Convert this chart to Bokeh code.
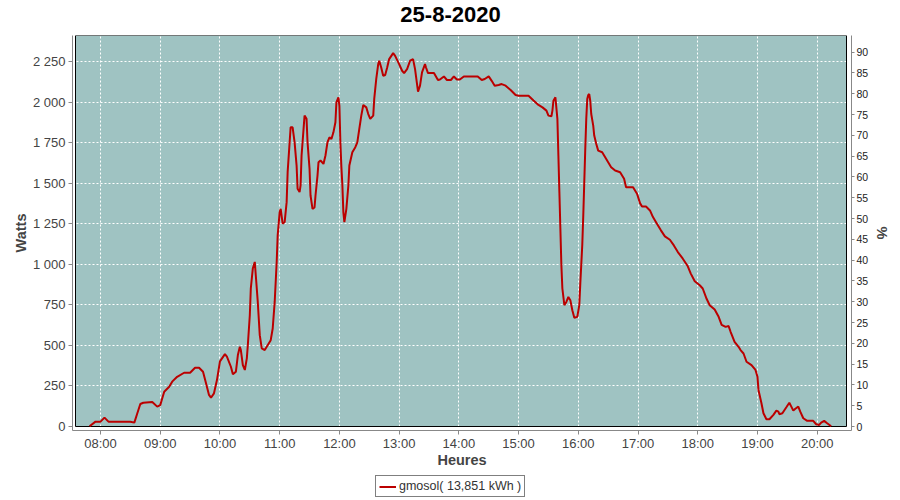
from bokeh.plotting import figure
from bokeh.layouts import column
from bokeh.models import Range1d, LinearAxis, FixedTicker, Legend, LegendItem, ColumnDataSource, Label
from bokeh.embed import file_html
from bokeh.resources import INLINE

title_text = "25-8-2020"
series_name = "gmosol( 13,851 kWh )"
x_label = "Heures"
y_label = "Watts"
y2_label = "%"

times = [
    "07:49", "07:55", "08:00", "08:04", "08:08", "08:30", "08:34", "08:37", "08:40", "08:43",
    "08:52", "08:57", "09:00", "09:04", "09:09", "09:12", "09:17", "09:24", "09:30", "09:35",
    "09:39", "09:43", "09:46", "09:49", "09:51", "09:54", "09:57", "10:00", "10:05", "10:07",
    "10:11", "10:13", "10:16", "10:18", "10:20", "10:21", "10:23", "10:25", "10:27", "10:28",
    "10:30", "10:31", "10:33", "10:35", "10:36", "10:38", "10:40", "10:42", "10:45", "10:47",
    "10:51", "10:53", "10:55", "10:57", "10:58", "11:00", "11:01", "11:03", "11:05", "11:07",
    "11:08", "11:10", "11:11", "11:13", "11:15", "11:17", "11:18", "11:20", "11:21", "11:22",
    "11:24", "11:25", "11:27", "11:28", "11:30", "11:31", "11:33", "11:35", "11:36", "11:38",
    "11:39", "11:41", "11:44", "11:46", "11:48", "11:50", "11:52", "11:54", "11:56", "11:57",
    "11:59", "12:00", "12:01", "12:02", "12:03", "12:04", "12:05", "12:07", "12:09", "12:10",
    "12:13", "12:16", "12:18", "12:20", "12:22", "12:24", "12:27", "12:29", "12:31", "12:34",
    "12:35", "12:37", "12:39", "12:40", "12:42", "12:44", "12:46", "12:48", "12:50", "12:54",
    "12:56", "13:00", "13:03", "13:05", "13:08", "13:11", "13:14", "13:16", "13:18", "13:19",
    "13:21", "13:23", "13:26", "13:27", "13:29", "13:35", "13:39", "13:41", "13:45", "13:48",
    "13:52", "13:55", "13:58", "14:01", "14:05", "14:19", "14:23", "14:26", "14:30", "14:33",
    "14:36", "14:40", "14:43", "14:47", "14:52", "14:57", "15:00", "15:10", "15:15", "15:20",
    "15:24", "15:28", "15:30", "15:33", "15:34", "15:35", "15:37", "15:39", "15:40", "15:41",
    "15:42", "15:43", "15:44", "15:46", "15:48", "15:50", "15:52", "15:54", "15:56", "15:59",
    "16:01", "16:02", "16:03", "16:04", "16:05", "16:06", "16:07", "16:08", "16:09", "16:10",
    "16:11", "16:12", "16:13", "16:15", "16:16", "16:18", "16:20", "16:24", "16:27", "16:30",
    "16:33", "16:37", "16:42", "16:46", "16:48", "16:55", "16:59", "17:02", "17:04", "17:08",
    "17:12", "17:15", "17:19", "17:23", "17:27", "17:32", "17:36", "17:40", "17:45", "17:50",
    "17:53", "17:57", "18:02", "18:05", "18:09", "18:12", "18:17", "18:21", "18:24", "18:28",
    "18:31", "18:33", "18:37", "18:41", "18:43", "18:46", "18:49", "18:54", "18:58", "19:00",
    "19:01", "19:04", "19:06", "19:09", "19:12", "19:16", "19:19", "19:21", "19:22", "19:25",
    "19:29", "19:32", "19:34", "19:36", "19:38", "19:41", "19:43", "19:46", "19:50", "19:56",
    "19:59", "20:02", "20:04", "20:07", "20:10", "20:14",
]
watts = [
    0, 28, 28, 53, 28, 28, 22, 80, 137, 145,
    150, 121, 130, 213, 244, 275, 305, 330, 330, 361,
    361, 336, 265, 193, 176, 203, 285, 400, 445, 429,
    367, 320, 336, 439, 490, 470, 377, 347, 419, 500,
    685, 850, 973, 1014, 932, 767, 562, 480, 470, 490,
    531, 603, 767, 1014, 1178, 1321, 1342, 1250, 1260, 1383,
    1568, 1752, 1845, 1845, 1752, 1609, 1466, 1445, 1486, 1671,
    1835, 1917, 1897, 1752, 1589, 1424, 1342, 1350, 1424, 1547,
    1629, 1640, 1619, 1671, 1752, 1783, 1773, 1814, 1876, 1999,
    2030, 1978, 1750, 1600, 1486, 1320, 1260, 1342, 1486, 1609,
    1691, 1722, 1752, 1835, 1917, 1983, 1968, 1927, 1897, 1917,
    2020, 2143, 2235, 2256, 2214, 2163, 2168, 2214, 2266, 2303,
    2286, 2235, 2194, 2180, 2204, 2256, 2266, 2204, 2112, 2065,
    2102, 2184, 2235, 2214, 2180, 2180, 2137, 2140, 2159, 2137,
    2137, 2159, 2140, 2140, 2159, 2159, 2137, 2143, 2159, 2132,
    2102, 2106, 2112, 2102, 2075, 2044, 2040, 2040, 2011, 1983,
    1968, 1948, 1917, 1913, 1948, 2009, 2030, 1897, 1671, 1445,
    1219, 993, 850, 747, 767, 798, 778, 716, 669, 675,
    747, 880, 1000, 1120, 1301, 1506, 1712, 1897, 2020, 2045,
    2050, 2009, 1927, 1855, 1794, 1743, 1701, 1691, 1660, 1629,
    1599, 1578, 1568, 1527, 1475, 1475, 1435, 1377, 1356, 1356,
    1332, 1291, 1250, 1209, 1172, 1151, 1116, 1075, 1034, 987,
    942, 895, 870, 850, 785, 747, 720, 675, 626, 613,
    618, 583, 521, 490, 470, 449, 398, 377, 347, 305,
    224, 142, 80, 43, 43, 70, 96, 90, 74, 80,
    117, 145, 121, 96, 108, 121, 90, 49, 33, 33,
    12, 8, 22, 33, 18, 0,
]

hour_ticks = list(range(8, 21))
hour_labels = ["08:00", "09:00", "10:00", "11:00", "12:00", "13:00", "14:00",
               "15:00", "16:00", "17:00", "18:00", "19:00", "20:00"]
watt_ticks = [0, 250, 500, 750, 1000, 1250, 1500, 1750, 2000, 2250]
watt_labels = ["0", "250", "500", "750", "1 000", "1 250", "1 500", "1 750", "2 000", "2 250"]
pct_ticks = list(range(0, 95, 5))

hours = [int(t[:2]) + int(t[3:]) / 60.0 for t in times]
src = ColumnDataSource(dict(x=hours, y=watts))

FONT = "Liberation Sans"
TEAL = "#9FC3C2"
RED = "#BB0000"
AXIS_GREY = "#888888"
LABEL_GREY = "#444444"

# page layout (px): title strip 0..35, main frame x 72..851 / y 35..430, legend strip 474..500
FL, FR = 72, 851
W, H_TOP, H_MAIN, H_LEG = 900, 35, 439, 26
FRAME_H = 395
x0, x1 = 7.5312, 20.5743
y0, y1 = -26.5, 2411.7
p2_0, p2_1 = -0.96, 94.0

# ---- title strip (frame aligned with the main frame; ranges in pixels) ----
pt = figure(width=W, height=H_TOP, output_backend="svg", toolbar_location=None, title=None,
            x_axis_location=None, y_axis_location=None, min_border=0,
            x_range=Range1d(FL, FR), y_range=Range1d(H_TOP, 0),
            background_fill_color="white", border_fill_color="white")
pt.outline_line_color = None
pt.xgrid.visible = False
pt.ygrid.visible = False
pt.add_layout(Label(x=450, y=14, text=title_text, text_align="center", text_baseline="middle",
                    text_font=FONT, text_font_size="22px", text_font_style="bold",
                    text_color="black"))

# ---- main chart ----
p = figure(width=W, height=H_MAIN, output_backend="svg", toolbar_location=None, title=None,
           x_range=Range1d(x0, x1), y_range=Range1d(y0, y1),
           min_border_left=FL, min_border_right=W - FR, min_border_top=0,
           min_border_bottom=H_MAIN - FRAME_H,
           background_fill_color="white", border_fill_color="white")
p.outline_line_color = None

fw, fh = float(FR - FL), float(FRAME_H)
hpp = (x1 - x0) / fw
wpp = (y1 - y0) / fh
box = dict(left=[x0 + 3 * hpp], right=[x1 - 5 * hpp], bottom=[y0 + 4 * wpp], top=[y1])
p.quad(**box, fill_color=TEAL, line_color=None, level="image")
p.quad(**box, fill_color=None, line_color="black", line_width=1)

line_r = p.line("x", "y", source=src, line_color=RED, line_width=2)

p.extra_y_ranges = {"pct": Range1d(p2_0, p2_1)}
ax2 = LinearAxis(y_range_name="pct", ticker=FixedTicker(ticks=pct_ticks))
p.add_layout(ax2, "right")

p.xaxis.ticker = FixedTicker(ticks=hour_ticks)
p.xaxis.major_label_overrides = dict(zip(hour_ticks, hour_labels))
p.xaxis.axis_label = x_label
p.yaxis[0].axis_label = y_label
p.yaxis[0].ticker = FixedTicker(ticks=watt_ticks)
p.yaxis[0].major_label_overrides = dict(zip(watt_ticks, watt_labels))
ax2.axis_label = y2_label

for ax in p.xaxis + p.yaxis:
    ax.axis_line_color = AXIS_GREY
    ax.major_tick_line_color = AXIS_GREY
    ax.major_tick_out = 4
    ax.major_tick_in = 0
    ax.minor_tick_line_color = None
    ax.major_label_text_font = FONT
    ax.major_label_text_font_size = "13px"
    ax.major_label_text_color = LABEL_GREY
    ax.major_label_standoff = 3
    ax.axis_label_text_font = FONT
    ax.axis_label_text_font_size = "14.5px"
    ax.axis_label_text_font_style = "bold"
    ax.axis_label_text_color = LABEL_GREY
    ax.axis_label_standoff = 1

p.xaxis.major_label_standoff = 1
p.xaxis.axis_label_standoff = -2
ax2.major_label_text_font_size = "10.5px"
ax2.major_label_text_color = "#222222"
ax2.major_tick_out = 3
ax2.major_label_standoff = 2
ax2.axis_label_standoff = 3

p.xgrid.ticker = FixedTicker(ticks=hour_ticks)
p.ygrid.ticker = FixedTicker(ticks=watt_ticks)
for g in (p.xgrid[0], p.ygrid[0]):
    g.grid_line_color = "white"
    g.grid_line_dash = "2 2"
    g.grid_line_width = 1

# ---- legend strip ----
pl = figure(width=W, height=H_LEG, output_backend="svg", toolbar_location=None, title=None,
            x_axis_location=None, y_axis_location=None, min_border=0,
            x_range=Range1d(0, 1), y_range=Range1d(0, 1),
            background_fill_color="white", border_fill_color="white")
pl.outline_line_color = None
pl.xgrid.visible = False
pl.ygrid.visible = False
# legend key renderer, kept outside the strip's visible range
key_r = pl.line(x=[2, 3], y=[2, 3], line_color=RED, line_width=2)
legend = Legend(items=[LegendItem(label=series_name, renderers=[key_r])],
                location=(375 - FL, 3), orientation="horizontal",
                border_line_color="black", border_line_width=1,
                background_fill_color="white", background_fill_alpha=1,
                label_text_font=FONT, label_text_font_size="12.5px", label_text_color="#333333",
                glyph_width=17, glyph_height=13, padding=3, spacing=0, margin=0,
                label_standoff=3, label_height=13)
pl.add_layout(legend)

open("out.html", "w").write(file_html(column(pt, p, pl, spacing=0), INLINE))
